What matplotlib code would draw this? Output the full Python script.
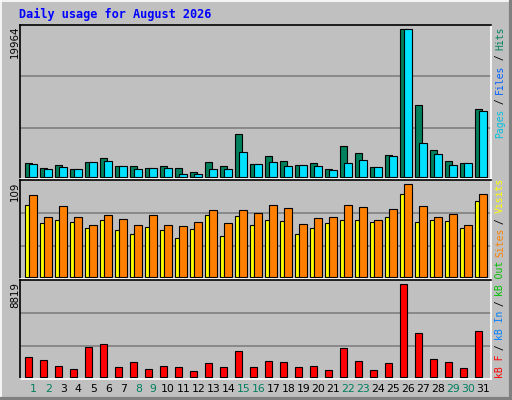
import matplotlib
matplotlib.use("Agg")
import matplotlib.pyplot as plt
from matplotlib.lines import Line2D
from matplotlib.transforms import blended_transform_factory

days = list(range(1, 32))
weekend_days = [1, 2, 8, 9, 15, 16, 22, 23, 29, 30]
hits = [1807, 1130, 1536, 994, 1942, 2484, 1400, 1400, 1130, 1400, 1130, 587, 1942, 1400, 5737,
        1671, 2755, 2078, 1536, 1807, 994, 4111, 3162, 1265, 2891, 19964, 9667, 3569, 2078, 1807, 9125]
files = [1671, 994, 1265, 994, 1942, 2078, 1400, 994, 1130, 1130, 316, 316, 994, 994, 3298,
         1671, 1942, 1400, 1536, 1400, 858, 1807, 2213, 1265, 2755, 19964, 4517, 3027, 1536, 1807, 8854]
visits = [85, 63, 67, 65, 57, 67, 55, 50, 59, 55, 46, 56, 73, 48, 72,
          61, 67, 66, 50, 57, 63, 67, 67, 65, 70, 98, 65, 67, 66, 57, 89]
sites = [96, 70, 83, 70, 61, 73, 68, 61, 73, 61, 60, 65, 79, 63, 79,
         75, 85, 81, 62, 69, 70, 85, 82, 67, 80, 109, 83, 70, 74, 61, 98]
kbytes = [1867, 1577, 998, 708, 2833, 3122, 901, 1384, 708, 998, 901, 515, 1288, 901, 2446,
          901, 1481, 1384, 901, 998, 612, 2736, 1481, 612, 1288, 8819, 4185, 1674, 1384, 805, 4378]
max_hits, max_visits, max_kb = 19964, 109, 8819

BG = '#C0C0C0'
fig = plt.figure(figsize=(5.12, 4.0), dpi=100, facecolor=BG)
W, H = 512, 400

def fx(px): return px / W
def fy(py): return 1 - py / H

def make_ax(top, bottom):
    ax = fig.add_axes([fx(20), fy(bottom), fx(491) - fx(20), (bottom - top) / H])
    ax.set_facecolor(BG)
    ax.set_xlim(0, 471 / 15)
    for f in (1/3, 2/3):
        ax.plot([0, 1], [f, f], transform=ax.transAxes, color='#808080', lw=1.2, zorder=0)
    ax.set_xticks([]); ax.set_yticks([])
    ax.spines['left'].set_color('black'); ax.spines['top'].set_color('black')
    ax.spines['right'].set_color('white'); ax.spines['bottom'].set_color('white')
    for s in ax.spines.values():
        s.set_linewidth(1.2)
    return ax

def set_lim(ax, mx, top, bottom):
    h = bottom - top
    usable = h - 2.3 - 4.4
    s = mx / usable
    ax.set_ylim(-2.3 * s, mx + 4.4 * s)

x = [d - 1 for d in days]
lw = 0.8
ax1 = make_ax(24.7, 179)
set_lim(ax1, max_hits, 24.7, 179)
ax1.bar([i + 0.33 for i in x], hits, width=0.47, align='edge', color='#00805C', edgecolor='black', linewidth=lw)
ax1.bar([i + 0.62 for i in x], files, width=0.49, align='edge', color='#00E0FF', edgecolor='black', linewidth=lw)

ax2 = make_ax(180, 279)
set_lim(ax2, max_visits, 180, 279)
ax2.bar([i + 0.33 for i in x], visits, width=0.29, align='edge', color='#FFFF00', edgecolor='black', linewidth=lw)
ax2.bar([i + 0.62 for i in x], sites, width=0.49, align='edge', color='#FF8000', edgecolor='black', linewidth=lw)

ax3 = make_ax(280, 379)
set_lim(ax3, max_kb, 280, 379)
ax3.bar([i + 0.33 for i in x], kbytes, width=0.49, align='edge', color='#FF0000', edgecolor='black', linewidth=lw)

tr = blended_transform_factory(ax3.transData, ax3.transAxes)
for i, d in zip(x, days):
    ax3.text(i + 0.88, -0.1, str(d), transform=tr, ha='center', va='center', fontsize=7.8,
             color='#00805C' if d in weekend_days else 'black', family='DejaVu Sans')

for val, ytop in ((max_hits, 26), (max_visits, 182), (max_kb, 282)):
    fig.text(fx(15), fy(ytop), str(val), rotation=90, ha='center', va='top', fontsize=7.4, family='DejaVu Sans')

fig.text(fx(19), fy(14), 'Daily usage for August 2026', color='#0000FF', fontsize=8.6,
         family='DejaVu Sans Mono', weight='bold', ha='left', va='center')

def vlabel(pieces, start_py, pitch=5.5):
    k = 0
    for txt, col in pieces:
        if txt.strip():
            fig.text(fx(500), fy(start_py - k * pitch), txt, rotation=90, color=col, fontsize=7.0,
                     family='DejaVu Sans Mono', ha='center', va='bottom')
        k += len(txt)

vlabel([('Pages', '#00C0E0'), (' / ', 'black'), ('Files', '#0060FF'), (' / ', 'black'), ('Hits', '#00805C')], 138)
vlabel([('kB F', '#FF0000'), (' / ', 'black'), ('kB In', '#0080FF'), (' / ', 'black'), ('kB Out', '#00C000'),
        (' ', 'black'), ('Sites', '#FF8000'), (' / ', 'black'), ('Visits', '#FFFF00')], 378)

def line(x0, y0, x1, y1, c, w):
    fig.add_artist(Line2D([fx(x0), fx(x1)], [fy(y0), fy(y1)], color=c, lw=w, transform=fig.transFigure))
line(0.5, 0, 0.5, 400, 'white', 1.2)
line(0, 0.5, 512, 0.5, 'white', 1.2)
line(510.5, 0, 510.5, 400, '#808080', 3)
line(0, 398.5, 512, 398.5, '#808080', 3)

fig.savefig('out.png', dpi=100, facecolor=BG)
